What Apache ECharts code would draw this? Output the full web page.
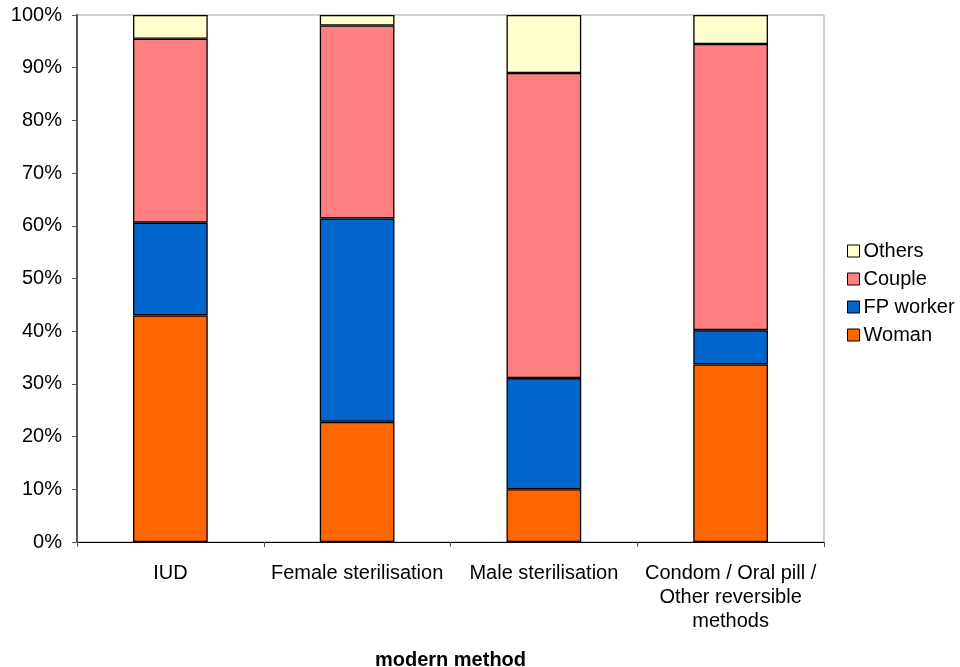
<!DOCTYPE html>
<html>
<head>
<meta charset="utf-8">
<script src="https://cdn.jsdelivr.net/npm/echarts@6/dist/echarts.min.js"></script>
<style>html,body{margin:0;padding:0;background:#fff}#c{width:960px;height:667px}</style>
</head>
<body>
<div id="c"></div>
<script>
var categories = ['IUD', 'Female sterilisation', 'Male sterilisation', 'Condom / Oral pill /\nOther reversible\nmethods'];
var woman = [43.0, 22.8, 10.0, 33.7];
var fpWorker = [17.6, 38.6, 21.1, 6.5];
var couple = [34.9, 36.6, 57.9, 54.3];
var others = [4.5, 2.0, 11.0, 5.5];
var yTicks = [0, 10, 20, 30, 40, 50, 60, 70, 80, 90, 100];

var font = 'Liberation Sans, Arial, sans-serif';
var chart = echarts.init(document.getElementById('c'));
function s(name, data, color) {
  return {
    name: name, type: 'bar', stack: 'all', data: data, barWidth: '40%',
    itemStyle: { color: color, borderColor: '#000', borderWidth: 1.3 },
    emphasis: { disabled: true }
  };
}
chart.setOption({
  animation: false,
  grid: { left: 77, right: 136, top: 15, bottom: 125, show: true, borderColor: '#a0a0a0', borderWidth: 1, outerBoundsMode: 'none', containLabel: false },
  legend: {
    orient: 'vertical', left: 842, top: 236, itemWidth: 12, itemHeight: 12, itemGap: 8,
    icon: 'rect',
    data: ['Others', 'Couple', 'FP worker', 'Woman'],
    textStyle: { fontFamily: font, fontSize: 20, color: '#000', padding: [0, 0, 0, -1] },
    itemStyle: { borderColor: '#000', borderWidth: 1 }
  },
  xAxis: {
    type: 'category', data: categories,
    name: 'modern method', nameLocation: 'middle', nameGap: 108,
    nameTextStyle: { fontFamily: font, fontSize: 20, fontWeight: 'bold', color: '#000' },
    axisLine: { lineStyle: { color: '#000', width: 1 } },
    axisTick: { show: true, length: 5, lineStyle: { color: '#555' } },
    axisLabel: { fontFamily: font, fontSize: 20, color: '#000', lineHeight: 24, margin: 19, interval: 0 }
  },
  yAxis: {
    type: 'value', min: 0, max: 100, interval: 10,
    axisLine: { show: true, lineStyle: { color: '#555', width: 2 } },
    axisTick: { show: true, length: 5, lineStyle: { color: '#555' } },
    splitLine: { show: false },
    axisLabel: { fontFamily: font, fontSize: 20, color: '#000', margin: 15, formatter: '{value}%' }
  },
  series: [
    s('Woman', woman, '#FF6600'),
    s('FP worker', fpWorker, '#0066CC'),
    s('Couple', couple, '#FF8080'),
    s('Others', others, '#FFFFCC')
  ]
});
</script>
</body>
</html>
